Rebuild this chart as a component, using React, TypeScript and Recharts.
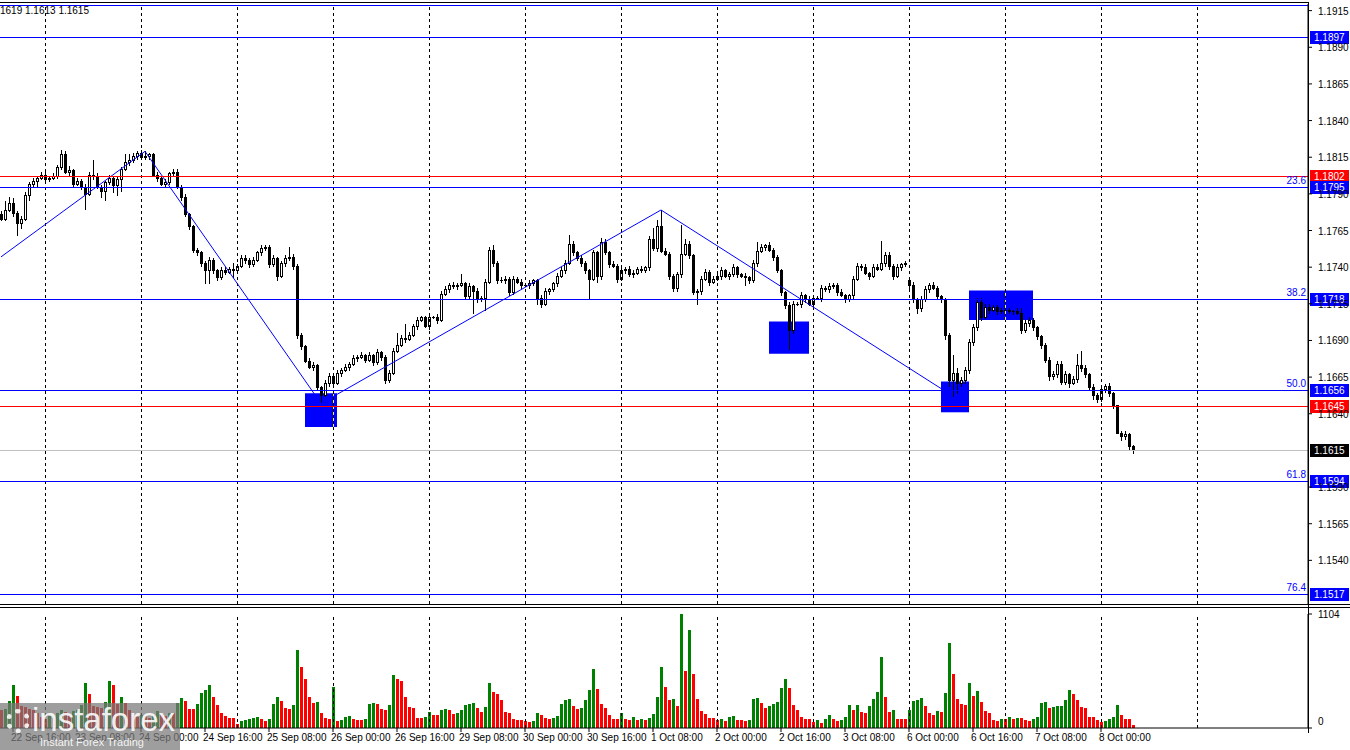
import React from 'react'
import { ComposedChart, Bar, Line, XAxis, YAxis, ReferenceLine, ReferenceArea } from 'recharts'

// EURUSD H1, prices in pips (1773 -> 1.1773)
const firstOpen = 1776
const openOverrides: Record<number, number> = { 227: 1731 }

const closes = [
  1773, 1779, 1784, 1777, 1770, 1773, 1789, 1797, 1799, 1801,
  1803, 1800, 1801, 1802, 1808, 1817, 1805, 1806, 1797, 1799,
  1795, 1790, 1803, 1802, 1795, 1792, 1798, 1801, 1796, 1800,
  1807, 1812, 1813, 1816, 1818, 1815, 1816, 1817, 1803, 1801,
  1797, 1798, 1804, 1805, 1795, 1788, 1776, 1768, 1752, 1750,
  1743, 1738, 1745, 1738, 1733, 1738, 1737, 1739, 1738, 1741,
  1746, 1745, 1742, 1745, 1750, 1753, 1754, 1742, 1746, 1734,
  1743, 1746, 1747, 1741, 1694, 1686, 1676, 1672, 1673, 1658,
  1653, 1661, 1666, 1661, 1668, 1670, 1672, 1674, 1678, 1679,
  1680, 1677, 1680, 1675, 1682, 1679, 1663, 1668, 1683, 1687,
  1692, 1691, 1694, 1700, 1704, 1706, 1700, 1706, 1706, 1704,
  1722, 1725, 1728, 1727, 1728, 1729, 1720, 1727, 1724, 1718,
  1719, 1730, 1752, 1743, 1731, 1731, 1732, 1723, 1732, 1730,
  1728, 1728, 1729, 1731, 1719, 1715, 1724, 1725, 1729, 1734,
  1738, 1743, 1756, 1750, 1746, 1743, 1738, 1732, 1750, 1734,
  1757, 1750, 1742, 1741, 1732, 1738, 1739, 1735, 1736, 1739,
  1738, 1740, 1759, 1753, 1768, 1751, 1749, 1734, 1726, 1735,
  1749, 1756, 1748, 1723, 1724, 1732, 1737, 1730, 1732, 1734,
  1738, 1734, 1735, 1740, 1735, 1734, 1733, 1731, 1743, 1751,
  1754, 1755, 1752, 1747, 1738, 1723, 1714, 1697, 1715, 1715,
  1721, 1718, 1715, 1719, 1719, 1726, 1725, 1727, 1728, 1723,
  1721, 1718, 1721, 1732, 1741, 1740, 1736, 1734, 1740, 1739,
  1743, 1748, 1741, 1734, 1740, 1742, 1743, 1728, 1718, 1712,
  1718, 1725, 1728, 1726, 1720, 1718, 1694, 1663, 1668, 1661,
  1663, 1670, 1689, 1699, 1716, 1706, 1713, 1711, 1713, 1710,
  1711, 1711, 1710, 1710, 1709, 1697, 1702, 1704, 1699, 1693,
  1687, 1677, 1666, 1667, 1674, 1662, 1667, 1661, 1664, 1673,
  1671, 1667, 1658, 1653, 1650, 1657, 1659, 1654, 1646, 1627,
  1625, 1626, 1618, 1615,
]

// wick lengths in pips above the body / below the body
const hiWick = [
  2, 6, 4, 3, 1, 2, 2, 1, 2, 1,
  2, 2, 1, 2, 2, 3, 2, 3, 1, 2,
  1, 2, 2, 10, 2, 1, 1, 2, 1, 2,
  1, 5, 4, 2, 1, 2, 3, 1, 1, 2,
  1, 2, 1, 2, 2, 1, 2, 1, 1, 1,
  1, 1, 2, 1, 1, 2, 2, 1, 4, 1,
  2, 2, 1, 2, 1, 2, 1, 1, 2, 1,
  1, 2, 7, 2, 1, 1, 1, 2, 2, 1,
  1, 2, 2, 1, 2, 1, 2, 1, 2, 1,
  2, 1, 2, 1, 2, 1, 1, 2, 2, 8,
  2, 9, 2, 1, 2, 1, 1, 1, 1, 2,
  2, 2, 1, 2, 1, 6, 1, 2, 1, 2,
  1, 2, 2, 3, 1, 2, 2, 1, 2, 1,
  2, 1, 2, 1, 1, 2, 2, 1, 1, 2,
  2, 2, 6, 2, 1, 2, 1, 1, 2, 1,
  3, 2, 1, 2, 1, 2, 1, 2, 2, 1,
  2, 1, 2, 8, 4, 11, 2, 1, 1, 2,
  20, 3, 2, 1, 1, 2, 2, 1, 2, 1,
  2, 1, 2, 2, 1, 1, 2, 1, 2, 6,
  2, 1, 2, 1, 1, 1, 1, 2, 2, 1,
  2, 1, 2, 2, 1, 2, 1, 2, 1, 1,
  2, 1, 1, 2, 2, 1, 2, 1, 2, 2,
  15, 2, 2, 1, 2, 1, 1, 2, 2, 1,
  2, 2, 1, 2, 1, 1, 1, 1, 12, 3,
  2, 2, 2, 2, 3, 3, 2, 2, 1, 1,
  1, 1, 1, 1, 2, 3, 2, 2, 1, 1,
  1, 1, 2, 2, 2, 2, 2, 1, 2, 8,
  10, 2, 1, 2, 1, 2, 1, 2, 1, 0,
  1, 2, 1, 1,
]

const loWick = [
  1, 1, 1, 2, 8, 3, 1, 3, 2, 4,
  1, 2, 1, 1, 1, 1, 1, 2, 2, 1,
  2, 10, 1, 2, 1, 4, 6, 1, 5, 7,
  8, 1, 2, 1, 2, 1, 1, 2, 1, 2,
  1, 2, 1, 2, 1, 2, 1, 2, 2, 2,
  2, 9, 9, 2, 2, 1, 2, 1, 5, 2,
  1, 2, 2, 1, 1, 2, 1, 2, 1, 3,
  1, 2, 1, 2, 2, 2, 1, 1, 2, 2,
  6, 1, 2, 2, 1, 2, 1, 2, 1, 2,
  1, 2, 1, 2, 1, 2, 2, 1, 1, 1,
  1, 2, 1, 1, 2, 1, 1, 2, 1, 2,
  1, 1, 2, 1, 2, 1, 2, 1, 15, 2,
  1, 8, 1, 2, 2, 1, 2, 2, 1, 1,
  2, 1, 2, 1, 4, 2, 1, 2, 1, 2,
  1, 2, 1, 2, 1, 2, 2, 14, 1, 4,
  2, 1, 2, 1, 2, 1, 2, 1, 2, 1,
  1, 1, 2, 1, 2, 1, 1, 2, 2, 2,
  2, 1, 2, 1, 8, 2, 1, 2, 1, 1,
  2, 1, 2, 1, 2, 1, 5, 2, 1, 2,
  1, 2, 1, 2, 1, 2, 2, 13, 2, 1,
  2, 2, 1, 2, 1, 2, 1, 2, 1, 2,
  1, 2, 1, 2, 1, 2, 1, 2, 1, 1,
  1, 2, 2, 2, 1, 2, 1, 2, 2, 3,
  2, 1, 2, 1, 2, 2, 3, 4, 11, 7,
  2, 2, 2, 2, 2, 2, 1, 2, 1, 2,
  1, 1, 1, 2, 1, 2, 1, 2, 2, 2,
  2, 2, 3, 2, 2, 2, 2, 3, 1, 2,
  2, 2, 2, 3, 2, 1, 2, 2, 2, 0,
  3, 2, 2, 2,
]

const volumes = [
  178, 187, 265, 420, 307, 216, 200, 187, 178, 150,
  110, 85, 113, 100, 150, 178, 155, 130, 160, 178,
  226, 439, 333, 216, 200, 190, 255, 459, 420, 236,
  304, 245, 178, 120, 107, 130, 113, 97, 129, 160,
  129, 113, 150, 145, 242, 294, 258, 187, 184, 236,
  339, 365, 417, 304, 226, 145, 120, 100, 94, 42,
  71, 74, 90, 94, 110, 90, 71, 90, 236, 304,
  258, 197, 187, 226, 759, 594, 478, 304, 245, 255,
  149, 100, 90, 401, 71, 81, 110, 113, 90, 81,
  78, 84, 236, 245, 236, 187, 178, 226, 517, 478,
  459, 304, 207, 197, 100, 97, 107, 158, 129, 127,
  178, 187, 178, 139, 149, 178, 226, 229, 245, 197,
  158, 207, 439, 352, 333, 275, 158, 149, 90, 81,
  74, 71, 61, 71, 149, 129, 100, 90, 94, 120,
  236, 275, 284, 216, 187, 197, 275, 371, 575, 381,
  236, 197, 129, 90, 87, 149, 90, 81, 110, 81,
  90, 81, 100, 139, 304, 594, 401, 275, 284, 216,
  1104, 556, 953, 526, 284, 168, 139, 100, 97, 81,
  90, 71, 110, 113, 81, 78, 71, 81, 284, 294,
  245, 197, 216, 236, 255, 391, 478, 391, 226, 178,
  110, 90, 87, 61, 81, 52, 90, 129, 90, 71,
  81, 110, 226, 178, 226, 158, 149, 216, 284, 352,
  691, 304, 158, 178, 90, 87, 84, 178, 265, 268,
  294, 216, 149, 129, 168, 158, 342, 827, 526, 284,
  236, 226, 439, 313, 362, 255, 168, 149, 81, 71,
  90, 87, 110, 90, 100, 97, 81, 71, 90, 110,
  245, 248, 197, 207, 210, 213, 275, 371, 333, 275,
  207, 197, 110, 107, 81, 61, 71, 90, 110, 226,
  129, 90, 87, 32,
]

// zigzag vertices (bar index -> price in pips)
const zigzagIdx = [0, 36, 80, 165, 238]
const zigzagPips = [1747, 1819, 1647, 1779, 1652]

// 1.1515 and 1.1615 sit under the level tags, so they are not printed
const priceTicks = [
  1.154, 1.1565, 1.159, 1.164, 1.1665, 1.169, 1.1715,
  1.174, 1.1765, 1.179, 1.1815, 1.184, 1.1865, 1.189, 1.1915,
]

const xLabelIdx = [3, 19, 35, 51, 67, 83, 99, 115, 131, 147, 163, 179, 195, 211, 227, 243, 259, 275]
const xLabels = [
  '22 Sep 16:00', '23 Sep 08:00', '24 Sep 00:00', '24 Sep 16:00', '25 Sep 08:00', '26 Sep 00:00',
  '26 Sep 16:00', '29 Sep 08:00', '30 Sep 00:00', '30 Sep 16:00', '1 Oct 08:00', '2 Oct 00:00',
  '2 Oct 16:00', '3 Oct 08:00', '6 Oct 00:00', '6 Oct 16:00', '7 Oct 08:00', '8 Oct 00:00',
]

const dayGridIdx = [11, 35, 59, 83, 107, 131, 155, 179, 203, 227, 251, 275, 299]

// horizontal levels: price, colour, tag colour, fibo text
const levels = [
  { p: 1.1919, color: '#0000ff', tag: null, fib: '' },
  { p: 1.1897, color: '#0000ff', tag: '#0000ff', fib: '' },
  { p: 1.1802, color: '#ff0000', tag: '#ff0000', fib: '' },
  { p: 1.1795, color: '#0000ff', tag: '#0000ff', fib: '23.6' },
  { p: 1.1718, color: '#0000ff', tag: '#0000ff', fib: '38.2' },
  { p: 1.1656, color: '#0000ff', tag: '#0000ff', fib: '50.0' },
  { p: 1.1645, color: '#ff0000', tag: '#ff0000', fib: '' },
  { p: 1.1615, color: '#c0c0c0', tag: '#000000', fib: '' },
  { p: 1.1594, color: '#0000ff', tag: '#0000ff', fib: '61.8' },
  { p: 1.1517, color: '#0000ff', tag: '#0000ff', fib: '76.4' },
]

// blue boxes: bar index range and price range in pips
const boxes = [
  { x1: 76, x2: 84, lo: 1631, hi: 1654 },
  { x1: 192, x2: 202, lo: 1681, hi: 1703 },
  { x1: 235, x2: 242, lo: 1641, hi: 1662 },
  { x1: 242, x2: 258, lo: 1704, hi: 1724 },
]

const px = (v: number) => 1 + v / 10000
const X_DOMAIN: [number, number] = [-0.25, 326.75]
const Y_DOMAIN: [number, number] = [1.151023, 1.191951]
const FONT = '"Liberation Sans", Arial, sans-serif'

const rows = closes.map((c, i) => {
  const o = openOverrides[i] ?? (i === 0 ? firstOpen : closes[i - 1])
  const hi = Math.max(o, c) + hiWick[i]
  const lo = Math.min(o, c) - loWick[i]
  const zi = zigzagIdx.indexOf(i)
  return {
    i,
    open: px(o),
    close: px(c),
    high: px(hi),
    low: px(lo),
    range: [px(lo), px(hi)],
    vol: volumes[i],
    volUp: i > 0 && volumes[i] > volumes[i - 1],
    zz: zi >= 0 ? px(zigzagPips[zi]) : null,
  }
})

// 1px lines snapped to the pixel grid
const CrispLine = (props: any) => {
  const { x1, y1, x2, y2, stroke, strokeDasharray } = props
  if (x1 == null || y1 == null) return null
  const vertical = Math.abs(x1 - x2) < 0.01
  const sx = vertical ? Math.round(x1) + 0.5 : x1
  const ex = vertical ? Math.round(x2) + 0.5 : x2
  const sy = vertical ? y1 : Math.round(y1) + 0.5
  const ey = vertical ? y2 : Math.round(y2) + 0.5
  return <line x1={sx} y1={sy} x2={ex} y2={ey} stroke={stroke} strokeWidth={1} strokeDasharray={strokeDasharray} />
}

const Candle = (props: any) => {
  const { x, y, width, height, payload } = props
  if (x == null || !payload) return null
  const c = Math.round(x + width / 2)
  const span = payload.high - payload.low
  const toY = (p: number) => (span > 0 ? y + ((payload.high - p) / span) * height : y)
  const yo = Math.round(toY(payload.open))
  const yc = Math.round(toY(payload.close))
  const top = Math.min(yo, yc)
  const bot = Math.max(yo, yc)
  const bull = payload.close > payload.open
  return (
    <g>
      <line x1={c + 0.5} x2={c + 0.5} y1={Math.round(y)} y2={Math.round(y + height) + 1} stroke="#000" strokeWidth={1} />
      {bot - top < 1 ? (
        <line x1={c - 1} x2={c + 2} y1={top + 0.5} y2={top + 0.5} stroke="#000" strokeWidth={1} />
      ) : (
        <rect x={c - 0.5} y={top + 0.5} width={2} height={bot - top} fill={bull ? '#fff' : '#000'} stroke="#000" strokeWidth={1} />
      )}
    </g>
  )
}

const VolBar = (props: any) => {
  const { x, y, width, height, payload } = props
  if (x == null || !payload) return null
  const c = Math.round(x + width / 2)
  return <rect x={c - 1} y={Math.round(y)} width={3} height={Math.max(0, Math.round(y + height) - Math.round(y))} fill={payload.volUp ? '#008000' : '#ff0000'} />
}

const LevelLabel = (props: any) => {
  const { viewBox, price, tag, fib, color } = props
  if (!viewBox) return null
  const right = viewBox.x + viewBox.width
  const yy = Math.round(viewBox.y)
  return (
    <g>
      {fib && (
        <text x={right - 2} y={yy - 3} textAnchor="end" fontSize={10} fontFamily={FONT} fill={color}>
          {fib}
        </text>
      )}
      {tag && (
        <g>
          <rect x={right + 2} y={yy - 6} width={39} height={13} fill={tag} />
          <text x={right + 6} y={yy + 4} fontSize={10} fontFamily={FONT} fill="#fff">
            {price.toFixed(4)}
          </text>
        </g>
      )}
    </g>
  )
}

const PriceTick = (props: any) => {
  const { x, y, payload } = props
  return (
    <text x={x} y={y + 4} fontSize={10} fontFamily={FONT} fill="#000" textAnchor="start">
      {Number(payload.value).toFixed(4)}
    </text>
  )
}

const VolTick = (props: any) => {
  const { x, y, payload } = props
  const shift = payload.value === 0 ? -3 : 4
  return (
    <text x={x} y={y + shift} fontSize={10} fontFamily={FONT} fill="#000" textAnchor="start">
      {payload.value}
    </text>
  )
}

const TimeTick = (props: any) => {
  const { x, y, payload } = props
  const k = xLabelIdx.indexOf(payload.value)
  return (
    <text x={x - 2} y={y} dy="0.71em" fontSize={10} fontFamily={FONT} fill="#000" textAnchor="start">
      {k >= 0 ? xLabels[k] : ''}
    </text>
  )
}

export default function App() {
  return (
    <div
      style={{
        position: 'absolute',
        left: 0,
        top: 0,
        width: 1350,
        height: 750,
        background: '#fff',
        overflow: 'hidden',
        fontFamily: FONT,
      }}
    >
      {/* price panel */}
      <div style={{ position: 'absolute', left: 0, top: 0 }}>
        <ComposedChart width={1350} height={605} data={rows} margin={{ top: 4, right: 0, bottom: 1, left: 0 }}>
          <XAxis dataKey="i" type="number" domain={X_DOMAIN} allowDataOverflow hide height={0} />
          <YAxis
            orientation="right"
            width={42}
            type="number"
            domain={Y_DOMAIN}
            allowDataOverflow
            ticks={priceTicks}
            interval={0}
            tick={<PriceTick />}
            tickSize={4}
            tickMargin={6}
            tickLine={{ stroke: '#000' }}
            axisLine={{ stroke: '#000' }}
          />
          {dayGridIdx.map((g) => (
            <ReferenceLine key={'g' + g} x={g} stroke="#000" strokeDasharray="3 3" shape={<CrispLine />} />
          ))}
          {boxes.map((b, k) => (
            <ReferenceArea key={'b' + k} x1={b.x1} x2={b.x2} y1={px(b.lo)} y2={px(b.hi)} fill="#0000ff" fillOpacity={1} stroke="none" />
          ))}
          <ReferenceLine segment={[{ x: 83, y: px(1631) }, { x: 83, y: px(1654) }]} stroke="#ffff00" strokeDasharray="3 3" shape={<CrispLine />} />
          <ReferenceLine segment={[{ x: 251, y: px(1704) }, { x: 251, y: px(1724) }]} stroke="#ffff00" strokeDasharray="3 3" shape={<CrispLine />} />
          <Bar dataKey="range" barSize={3} shape={<Candle />} isAnimationActive={false} />
          <Line dataKey="zz" type="linear" stroke="#0000ff" strokeWidth={1} dot={false} connectNulls isAnimationActive={false} />
          {levels.map((l) => (
            <ReferenceLine
              key={'l' + l.p}
              y={l.p}
              stroke={l.color}
              strokeWidth={1}
              shape={<CrispLine />}
              label={<LevelLabel price={l.p} tag={l.tag} fib={l.fib} color={l.color} />}
            />
          ))}
        </ComposedChart>
      </div>

      {/* volume panel */}
      <div style={{ position: 'absolute', left: 0, top: 607 }}>
        <ComposedChart width={1350} height={143} data={rows} margin={{ top: 7, right: 0, bottom: 0, left: 0 }}>
          <XAxis
            dataKey="i"
            type="number"
            domain={X_DOMAIN}
            allowDataOverflow
            height={22}
            ticks={xLabelIdx}
            interval={0}
            tick={<TimeTick />}
            tickSize={4}
            tickMargin={2}
            tickLine={{ stroke: '#000' }}
            axisLine={{ stroke: '#000' }}
          />
          <YAxis
            orientation="right"
            width={42}
            type="number"
            domain={[0, 1104]}
            allowDataOverflow
            ticks={[0, 1104]}
            interval={0}
            tick={<VolTick />}
            tickSize={4}
            tickMargin={6}
            tickLine={{ stroke: '#000' }}
            axisLine={{ stroke: '#000' }}
          />
          {dayGridIdx.map((g) => (
            <ReferenceLine key={'vg' + g} x={g} stroke="#000" strokeDasharray="3 3" shape={<CrispLine />} />
          ))}
          <Bar dataKey="vol" barSize={3} shape={<VolBar />} isAnimationActive={false} />
        </ComposedChart>
      </div>

      {/* window frame */}
      <div style={{ position: 'absolute', left: 0, top: 2, width: 1309, height: 1, background: '#000' }} />
      <div style={{ position: 'absolute', left: 0, top: 604, width: 1350, height: 1, background: '#000' }} />
      <div style={{ position: 'absolute', left: 0, top: 607, width: 1350, height: 1, background: '#000' }} />
      <div style={{ position: 'absolute', left: 1308, top: 2, width: 1, height: 731, background: '#000' }} />

      {/* OHLC of the last bar */}
      <div style={{ position: 'absolute', left: 0, top: 4, fontSize: 10, lineHeight: '14px', color: '#000', whiteSpace: 'nowrap' }}>
        1619 1.1613 1.1615
      </div>

      {/* watermark */}
      <div
        style={{
          position: 'absolute',
          left: 0,
          top: 703,
          width: 180,
          height: 47,
          background: 'rgba(120,120,120,0.72)',
        }}
      >
        <div
          style={{
            position: 'absolute',
            left: 6,
            top: 6,
            width: 24,
            height: 24,
            borderRadius: 12,
            border: '5px dotted rgba(255,255,255,0.85)',
            boxSizing: 'border-box',
          }}
        />
        <div style={{ position: 'absolute', left: 32, top: -1, fontSize: 33, lineHeight: '36px', color: 'rgba(255,255,255,0.9)' }}>
          instaforex
        </div>
        <div style={{ position: 'absolute', left: 40, top: 33, fontSize: 11, lineHeight: '13px', color: 'rgba(255,255,255,0.9)' }}>
          Instant Forex Trading
        </div>
      </div>
    </div>
  )
}
